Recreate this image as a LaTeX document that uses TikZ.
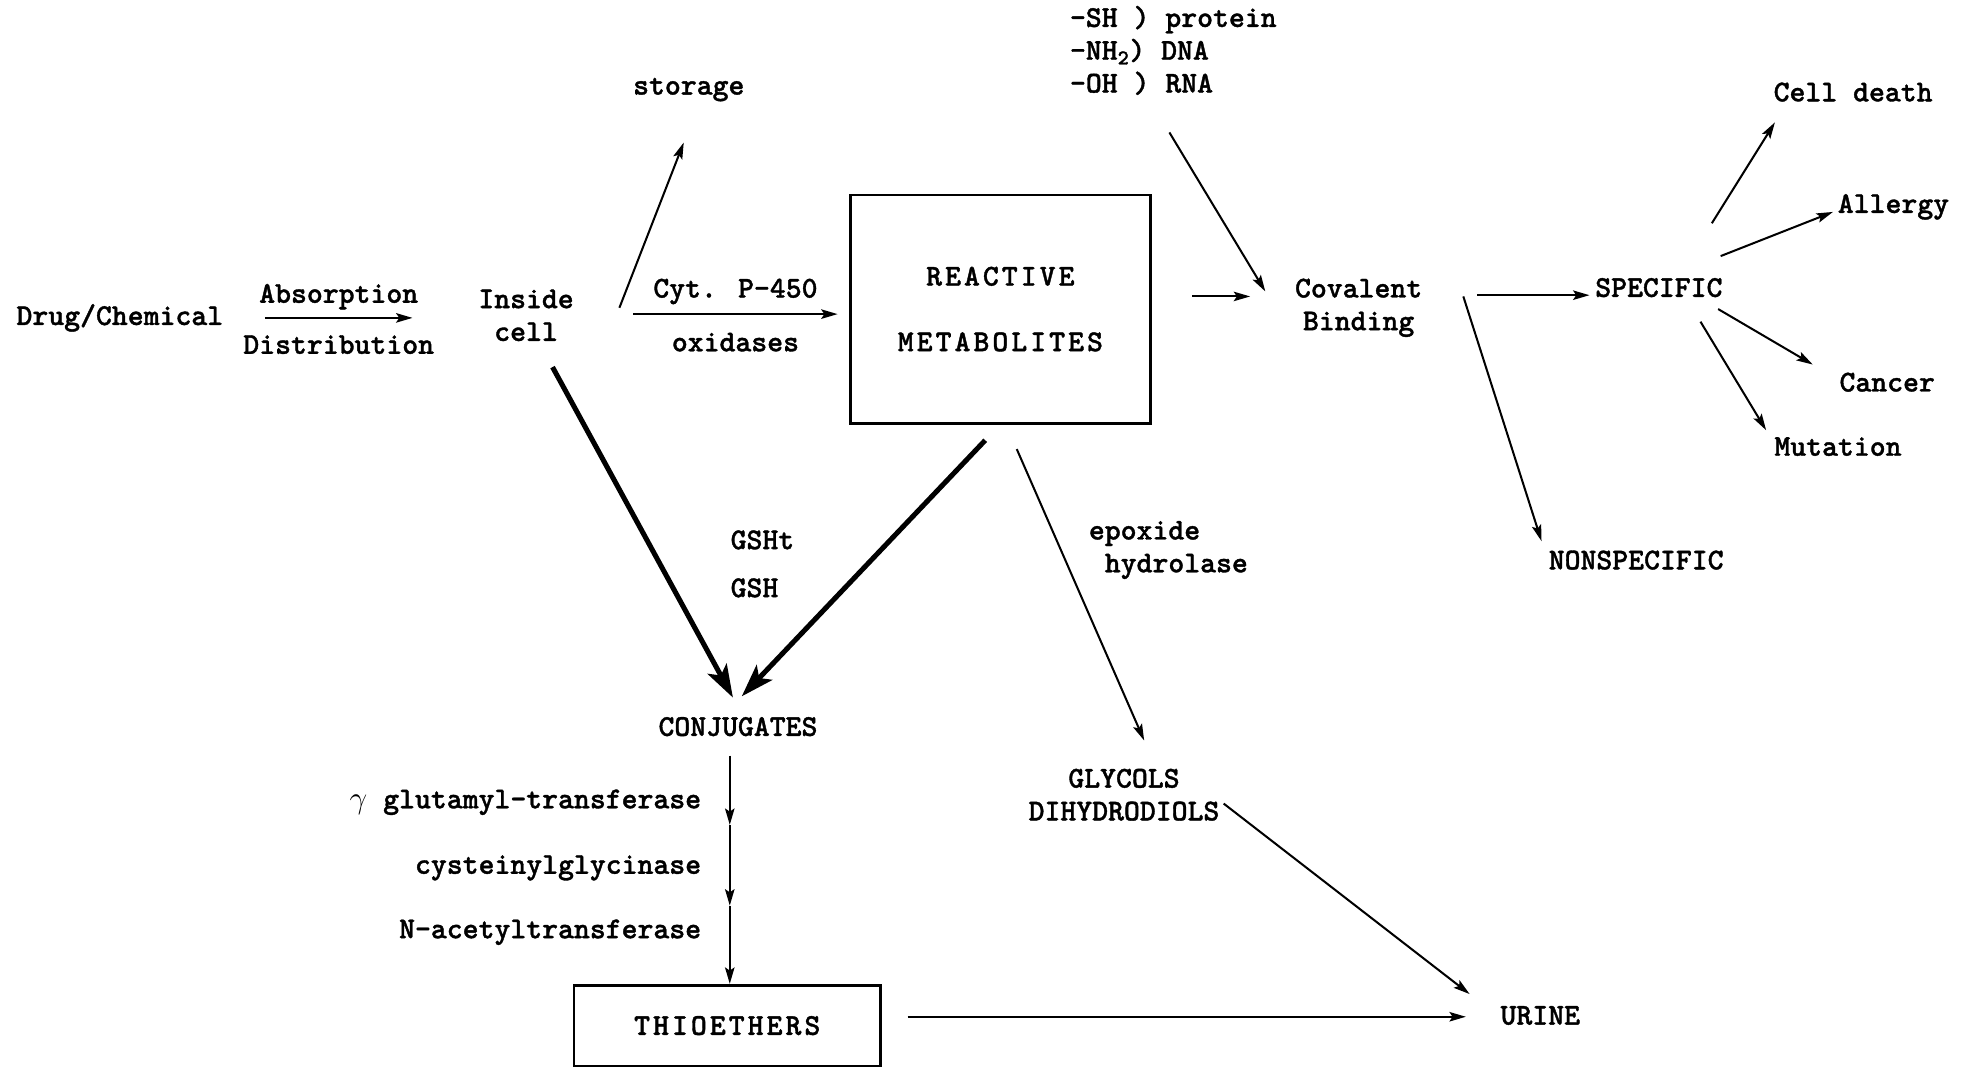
\documentclass[tikz,border=0pt]{standalone}
\usepackage{fontspec}
\usetikzlibrary{arrows.meta}
\newfontfamily\typefont{lmmonolt10-bold.otf}[FakeBold=1.2]
\newfontfamily\widefont{lmmonolt10-bold.otf}[LetterSpace=10, FakeBold=1.2]

\begin{document}
\begin{tikzpicture}[
        x=1pt, y=-1pt,
        every node/.style={font=\typefont\fontsize{24}{26}\selectfont, inner sep=2pt, align=center},
        arrow/.style={-{Stealth[length=13pt, width=7.5pt, inset=2.5pt]}, line width=1.6pt},
        bigarrow/.style={-{Stealth[length=26pt, width=17pt, inset=6pt]}, line width=4pt},
        box/.style={rectangle, draw=black, line width=2.2pt, inner sep=0pt, font=\widefont\fontsize{24}{26}\selectfont}
    ]
        \useasboundingbox (0,0) rectangle (1568,848);

        % Uptake
        \node (drug) at (95,252) {Drug/Chemical};
        \node (inside) at (417,250) {Inside\\cell};
        \node (storage) at (546,71) {storage};

        % Activation and binding
        \node[box, minimum width=238pt, minimum height=181pt] (reactive) at (793,245) {REACTIVE\\[26pt]METABOLITES};
        \node[anchor=west, align=left] (sites) at (846,40) {-SH ) protein\\-NH\textsubscript{2}) DNA\\-OH ) RNA};
        \node (covalent) at (1077,244) {Covalent\\Binding};
        \node (specific) at (1315,228) {SPECIFIC};
        \node (nonspec) at (1297,444) {NONSPECIFIC};
        \node (celldeath) at (1469,73) {Cell death};
        \node (allergy) at (1501,164) {Allergy};
        \node (cancer) at (1496,303) {Cancer};
        \node (mutation) at (1457,354) {Mutation};

        % Detoxification
        \node[anchor=west, align=left] (gsh) at (577,447) {GSHt\\[12pt]GSH};
        \node (conj) at (585,576) {CONJUGATES};
        \node[anchor=west, align=left] (epoxide) at (861,436) {epoxide\\\hphantom{x}hydrolase};
        \node (glycols) at (891,630) {GLYCOLS\\DIHYDRODIOLS};
        \node[anchor=east] (gglut) at (558,636) {$\gamma$ glutamyl-transferase};
        \node[anchor=east] (cysgly) at (558,688) {cysteinylglycinase};
        \node[anchor=east] (nacetyl) at (558,739) {N-acetyltransferase};
        \node[box, minimum width=243pt, minimum height=64pt] (thio) at (576.5,813) {THIOETHERS};
        \node (urine) at (1221,805) {URINE};

        % Uptake arrows
        \draw[arrow] ([shift={(115,0)}]drug.center) -- node[above=4pt] (absorb) {Absorption} node[below=11pt] (distrib) {Distribution} ([shift={(-90,2)}]inside.center);
        \draw[arrow] ([shift={(74,-6)}]inside.center) -- ([shift={(-4,42)}]storage.center);
        \draw[arrow] ([shift={(85,-1)}]inside.center) -- node[above=5pt] (cyt) {Cyt. P-450} node[below=12pt] (oxid) {oxidases} ([shift={(-129,4)}]reactive.center);

        % Binding arrows
        \draw[arrow] ([shift={(152,-10)}]reactive.center) -- ([shift={(-86,-9)}]covalent.center);
        \draw[arrow] ([shift={(81,65)}]sites.west) -- ([shift={(-74,-13)}]covalent.center);
        \draw[arrow] ([shift={(94,-10)}]covalent.center) -- ([shift={(-55,6)}]specific.center);
        \draw[arrow] ([shift={(83,-9)}]covalent.center) -- ([shift={(-75,-15)}]nonspec.center);
        \draw[arrow] ([shift={(42,-51)}]specific.center) -- ([shift={(-62,24)}]celldeath.center);
        \draw[arrow] ([shift={(49,-25)}]specific.center) -- ([shift={(-48,4)}]allergy.center);
        \draw[arrow] ([shift={(47,17)}]specific.center) -- ([shift={(-59,-14)}]cancer.center);
        \draw[arrow] ([shift={(33,27)}]specific.center) -- ([shift={(-57,-13)}]mutation.center);

        % Detoxification arrows
        \draw[bigarrow] ([shift={(21,41)}]inside.center) -- ([shift={(-4,-23)}]conj.center);
        \draw[bigarrow] ([shift={(-12,104)}]reactive.center) -- ([shift={(3,-24)}]conj.center);
        \draw[arrow] ([shift={(13,111)}]reactive.center) -- ([shift={(16,-43)}]glycols.center);
        \draw[arrow] ([shift={(79,7)}]glycols.center) -- ([shift={(-56,-17)}]urine.center);
        \draw[arrow] ([shift={(2,-181)}]thio.north) -- ([shift={(2,-126)}]thio.north);
        \draw[arrow] ([shift={(2,-126)}]thio.north) -- ([shift={(2,-62)}]thio.north);
        \draw[arrow] ([shift={(2,-62)}]thio.north) -- ([shift={(2,0)}]thio.north);
        \draw[arrow] ([shift={(143,-7)}]thio.center) -- ([shift={(-59,1)}]urine.center);
    \end{tikzpicture}
\end{document}
